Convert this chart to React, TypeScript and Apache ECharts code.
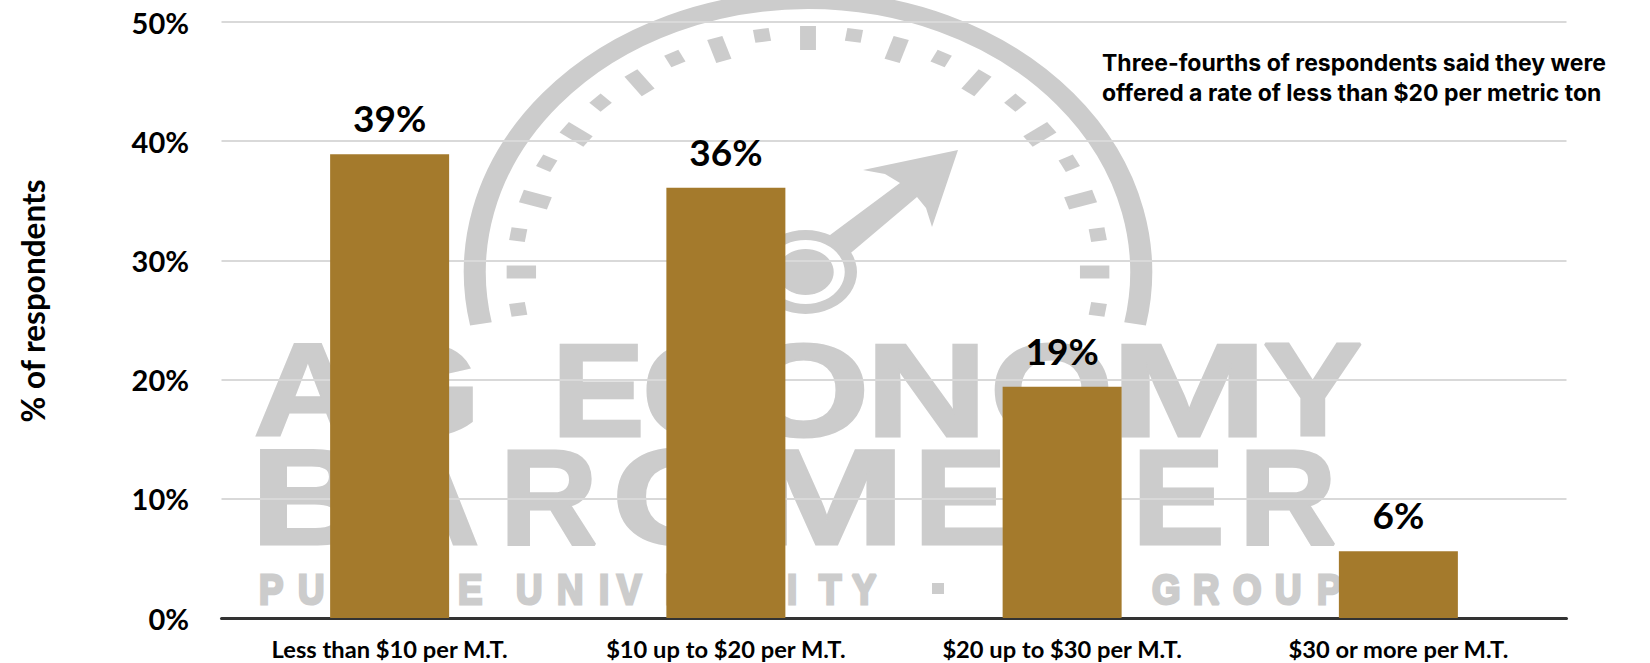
import React, { useEffect, useRef } from "react";
import * as echarts from "echarts";

const categories = ["Less than $10 per M.T.", "$10 up to $20 per M.T.", "$20 up to $30 per M.T.", "$30 or more per M.T."];
const values = [38.9, 36.1, 19.4, 5.6];
const note = "Three-fourths of respondents said they were\noffered a rate of less than $20 per metric ton";
const yTitle = "% of respondents";

const GREY = "#cccccc";
const longTicks = [-90, -72, -54, -36, -18, 0, 18, 36, 54, 72, 90];
const shortTicks = [-99, -81, -63, -45, -27, -9, 9, 27, 45, 63, 81, 99];
const line1: [string, number, number][] = [["A", 254, 1.13], ["G", 348, 1.3], ["E", 552, 1.05], ["C", 642, 1.15], ["O", 738, 1.28], ["N", 866, 1.27], ["O", 990, 1.2], ["M", 1111, 1.42], ["Y", 1263, 1.13]];
const line2: [string, number, number][] = [["B", 251, 1.2], ["A", 372, 1.1], ["R", 500, 1.0], ["O", 612, 1.28], ["M", 748, 1.4], ["E", 914, 1.03], ["T", 1020, 1.0], ["E", 1132, 1.03], ["R", 1239, 1.0]];
const line3: [string, number][] = [["P", 262], ["U", 301], ["R", 340], ["D", 380], ["U", 420], ["E", 461], ["U", 519], ["N", 560], ["I", 602], ["V", 620], ["E", 668], ["R", 705], ["S", 745], ["I", 790], ["T", 822], ["Y", 855], ["C", 1010], ["M", 1042], ["E", 1092], ["G", 1155], ["R", 1196], ["O", 1236], ["U", 1278], ["P", 1320]];

function watermark(): any[] {
  const els: any[] = [];
  const dial: any[] = [];
  dial.push({ type: "arc", z: -1, shape: { cx: 0, cy: 0, r: 272, startAngle: (169 * Math.PI) / 180, endAngle: (371 * Math.PI) / 180, clockwise: true }, style: { stroke: GREY, lineWidth: 18, fill: "none" } });
  longTicks.forEach((a) => {
    dial.push({ type: "rect", z: -1, rotation: (-a * Math.PI) / 180, shape: { x: -6.5, y: -246, width: 13, height: 24 }, style: { fill: GREY } });
  });
  shortTicks.forEach((a) => {
    dial.push({ type: "rect", z: -1, rotation: (-a * Math.PI) / 180, shape: { x: -6.5, y: -246, width: 13, height: 13 }, style: { fill: GREY } });
  });
  dial.push({ type: "ring", z: -1, x: -2, shape: { cx: 0, cy: 0, r: 42, r0: 32 }, style: { fill: GREY } });
  dial.push({ type: "circle", z: -1, x: -2, shape: { cx: 0, cy: 0, r: 23 }, style: { fill: GREY } });
  els.push({ type: "group", x: 808, y: 272, scaleX: 1.225, scaleY: 1, children: dial });
  els.push({
    type: "polygon",
    z: -1,
    shape: { points: [[826, 238], [900, 183], [885, 174], [863, 170], [958, 150], [932, 227], [926, 208], [917, 197], [846, 257]] },
    style: { fill: GREY },
  });
  const txt = (text: string, x: number, y: number, size: number, sx: number, sw: number) => ({
    type: "text",
    z: -1,
    x,
    y,
    scaleX: sx,
    style: { text, fill: GREY, stroke: GREY, lineWidth: sw, fontFamily: "Liberation Sans", fontWeight: "bold", fontSize: size, align: "left", verticalAlign: "middle" },
  });
  line1.forEach(([c, x, s]) => els.push(txt(c, x, 390, 132, s, 3)));
  line2.forEach(([c, x, s]) => els.push(txt(c, x, 497, 135, s, 3)));
  line3.forEach(([c, x]) => els.push(txt(c, x - 3, 589, 43, 0.85, 3)));
  els.push({ type: "rect", z: -1, shape: { x: 932, y: 583, width: 12, height: 11 }, style: { fill: GREY } });
  return els;
}

export default function App() {
  const ref = useRef<HTMLDivElement>(null);
  useEffect(() => {
    document.body.style.margin = "0";
    const chart = echarts.init(ref.current!, undefined, { renderer: "svg" });
    chart.setOption({
      animation: false,
      backgroundColor: "#ffffff",
      grid: { left: 221.5, right: 83.5, top: 22, bottom: 45, containLabel: false },
      xAxis: {
        type: "category",
        data: categories,
        axisTick: { show: false },
        axisLine: { lineStyle: { color: "#333333", width: 3 } },
        axisLabel: { color: "#000", fontFamily: "Lato", fontWeight: "bold", fontSize: 23.7, margin: 19 },
      },
      yAxis: {
        type: "value",
        min: 0,
        max: 50,
        interval: 10,
        name: yTitle,
        nameLocation: "middle",
        nameGap: 173,
        nameTextStyle: { color: "#000", fontFamily: "Lato", fontWeight: "bold", fontSize: 31.5, padding: [0, 0, 0, 38] },
        axisLine: { show: false },
        axisTick: { show: false },
        splitLine: { lineStyle: { color: "#d9d9d9", width: 2 } },
        axisLabel: { color: "#000", fontFamily: "Lato", fontWeight: "bold", fontSize: 29, margin: 32.5, padding: [0, 0, 7, 0], formatter: "{value}%" },
      },
      graphic: [
        ...watermark(),
        {
          type: "text",
          x: 1102,
          y: 78,
          z: 5,
          style: { text: note, fill: "#000", fontFamily: "Inter", fontWeight: "bold", fontSize: 23, lineHeight: 30, align: "left", verticalAlign: "middle" },
        },
      ],
      series: [
        {
          type: "bar",
          data: values,
          barWidth: 119,
          itemStyle: { color: "#a47a2c" },
          label: {
            show: true,
            position: "top",
            distance: 18,
            color: "#000",
            fontFamily: "Lato",
            fontWeight: "bold",
            fontSize: 37,
            formatter: (p: any) => Math.round(p.value) + "%",
          },
        },
      ],
    });
    return () => chart.dispose();
  }, []);
  return <div ref={ref} style={{ width: 1650, height: 663 }} />;
}
